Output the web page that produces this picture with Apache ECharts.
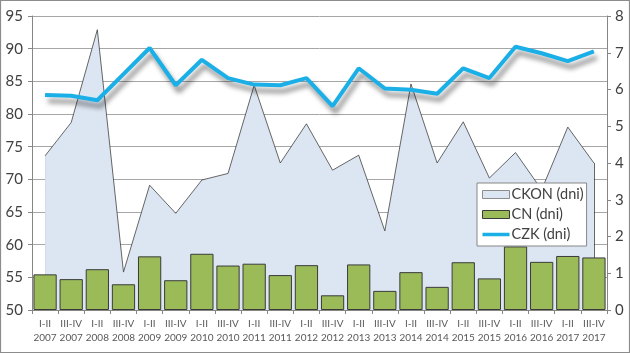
<!DOCTYPE html>
<html>
<head>
<meta charset="utf-8">
<script src="https://cdn.jsdelivr.net/npm/echarts@6/dist/echarts.min.js"></script>
<style>
  html, body { margin: 0; padding: 0; background: #fff; }
  #chart { width: 630px; height: 353px; }
</style>
</head>
<body>
<div id="chart"></div>
<script>
// half-year periods
const periods = ['I-II', 'III-IV']
const years = ['2007', '2008', '2009', '2010', '2011', '2012', '2013', '2014', '2015', '2016', '2017']
const categories = []
years.forEach(y => periods.forEach(p => categories.push(p + '\n' + y)))

// CKON (dni) - left axis
const ckon = [73.6, 78.7, 92.9, 55.8, 69.1, 64.8, 69.9, 70.9, 84.4, 72.5, 78.5,
  71.4, 73.7, 62.1, 84.6, 72.5, 78.8, 70.2, 74.1, 68.4, 78.0, 72.5]
// CN (dni) - right axis
const cn = [0.97, 0.84, 1.11, 0.70, 1.46, 0.81, 1.53, 1.21, 1.26, 0.95, 1.22,
  0.40, 1.24, 0.52, 1.03, 0.63, 1.30, 0.86, 1.73, 1.31, 1.47, 1.43]
// CZK (dni) - left axis
const czk = [82.9, 82.8, 82.1, 86.1, 90.1, 84.4, 88.3, 85.5, 84.5, 84.4, 85.5,
  81.2, 87.0, 83.9, 83.7, 83.1, 87.0, 85.5, 90.3, 89.3, 88.1, 89.6]

const font = 'Lato, "Open Sans", sans-serif'
const textColor = '#404040'
const axisColor = '#868686'

const chart = echarts.init(document.getElementById('chart'))

const last = ckon.length - 1

chart.setOption({
  animation: false,
  textStyle: { fontFamily: font },
  graphic: [{
    type: 'rect',
    silent: true,
    shape: { x: 0.5, y: 0.5, width: 629, height: 352 },
    style: { fill: 'none', stroke: '#8c8c8c', lineWidth: 1.2 }
  }],
  grid: { left: 32, right: 23, top: 16, bottom: 43 },
  legend: {
    orient: 'vertical',
    left: 477,
    top: 183,
    padding: [4, 3, 4, 5],
    itemGap: 5,
    itemWidth: 27,
    itemHeight: 8,
    backgroundColor: '#fff',
    borderColor: axisColor,
    borderWidth: 1,
    textStyle: { fontSize: 14.5, color: textColor, fontFamily: font, padding: [0, 0, 0, -3] },
    data: [
      { name: 'CKON (dni)', icon: 'rect', itemStyle: { color: '#dce6f2', borderColor: '#8c8c8c', borderWidth: 1 } },
      { name: 'CN (dni)', icon: 'rect', itemStyle: { color: '#9bbb59', borderColor: '#3a3a3a', borderWidth: 1 } },
      { name: 'CZK (dni)', icon: 'path://M0,0 H27 V3.5 H0 Z', itemStyle: { color: '#1aafe6' } }
    ]
  },
  xAxis: {
    type: 'category',
    data: categories,
    boundaryGap: true,
    axisLine: { lineStyle: { color: axisColor } },
    axisTick: { show: true, length: 4, lineStyle: { color: axisColor } },
    axisLabel: { color: '#595959', fontSize: 10, lineHeight: 14, interval: 0, margin: 7 }
  },
  yAxis: [{
    type: 'value',
    min: 50,
    max: 95,
    interval: 5,
    axisLine: { show: true, lineStyle: { color: axisColor } },
    axisTick: { show: true, length: 4, lineStyle: { color: axisColor } },
    axisLabel: { color: textColor, fontSize: 15, margin: 9 },
    splitLine: { lineStyle: { color: '#a6a6a6' } }
  }, {
    type: 'value',
    min: 0,
    max: 8,
    interval: 1,
    position: 'right',
    axisLine: { show: true, lineStyle: { color: axisColor } },
    axisTick: { show: true, length: 4, lineStyle: { color: axisColor } },
    axisLabel: { color: textColor, fontSize: 15, margin: 8 },
    splitLine: { show: false }
  }],
  series: [{
    name: 'CKON (dni)',
    type: 'line',
    yAxisIndex: 0,
    z: 1,
    data: ckon,
    symbol: 'none',
    lineStyle: { color: '#404040', width: 0.8 },
    itemStyle: { color: '#dce6f2' },
    areaStyle: { color: '#dce6f2', opacity: 1, origin: 'start' },
    markLine: {
      silent: true,
      z: 1,
      symbol: 'none',
      label: { show: false },
      lineStyle: { color: '#404040', width: 0.8, type: 'solid' },
      data: [
        [{ coord: [0, 50] }, { coord: [0, ckon[0]] }],
        [{ coord: [last, 50] }, { coord: [last, ckon[last]] }]
      ]
    }
  }, {
    name: 'CN (dni)',
    type: 'bar',
    yAxisIndex: 1,
    z: 2,
    data: cn,
    barCategoryGap: '11%',
    itemStyle: { color: '#9bbb59', borderColor: '#3a3a3a', borderWidth: 1 }
  }, {
    name: 'CZK (dni)',
    type: 'line',
    yAxisIndex: 0,
    z: 3,
    data: czk,
    symbol: 'none',
    itemStyle: { color: '#1aafe6' },
    lineStyle: {
      color: '#1aafe6',
      width: 4,
      shadowColor: 'rgba(0,0,0,0.45)',
      shadowBlur: 5,
      shadowOffsetX: 3,
      shadowOffsetY: 6
    }
  }]
})
</script>
</body>
</html>
